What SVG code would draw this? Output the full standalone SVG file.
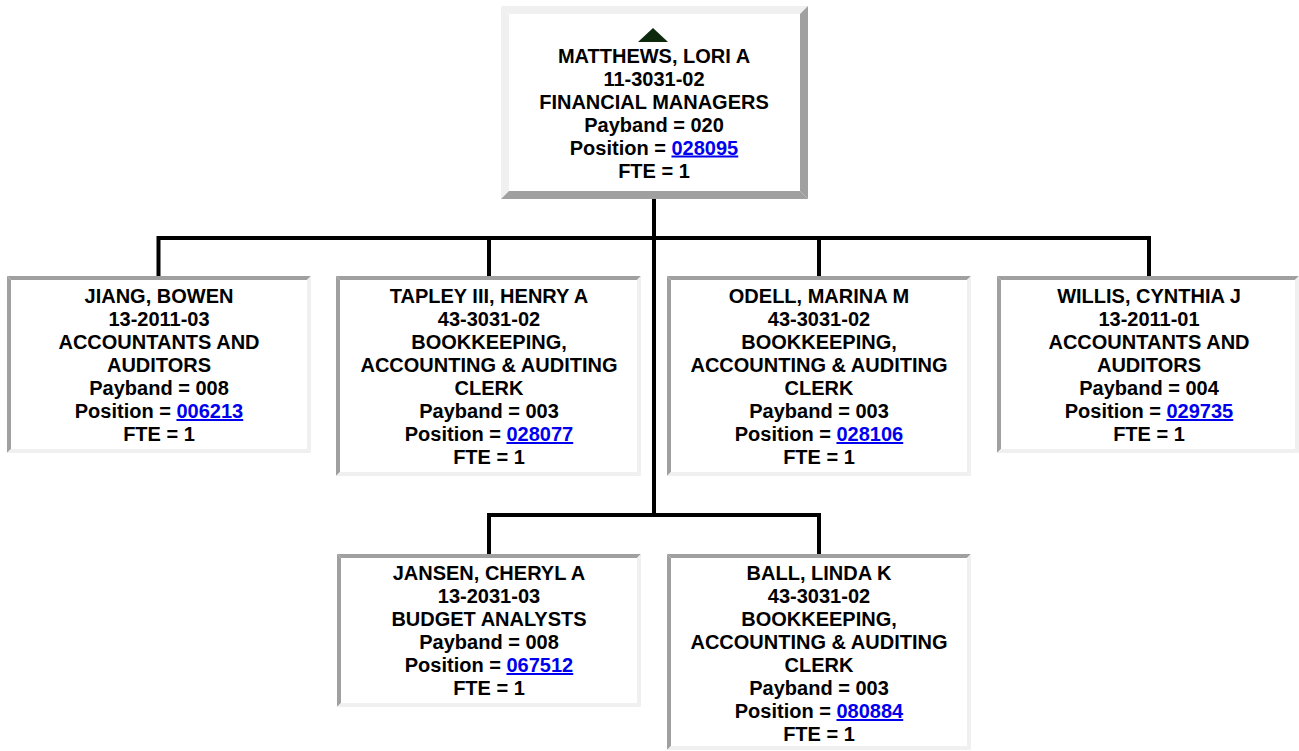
<svg xmlns="http://www.w3.org/2000/svg" width="1299" height="751" viewBox="0 0 1299 751">
<style>
.lt{fill:#f0f0f0}
.dk{fill:#a0a0a0}
.bg{fill:#ffffff}
text{font-family:"Liberation Sans",Arial,sans-serif;font-weight:bold;font-size:20px;fill:#000;text-anchor:middle}
.lnk{fill:#0000ee;text-decoration:underline}
.conn{fill:none;stroke:#000;stroke-width:4;stroke-linejoin:miter}
</style>
<rect x="0" y="0" width="1299" height="751" fill="#ffffff"/>
<g id="connectors">
<path class="conn" d="M654 199 V515"/>
<path class="conn" d="M158.5 278 V238 H1149 V278"/>
<path class="conn" d="M489 278 V238"/>
<path class="conn" d="M819 278 V238"/>
<path class="conn" d="M489 556 V515 H819 V556"/>
</g>
<g id="matthews">
<rect class="bg" x="501" y="6" width="307" height="193"/>
<path class="lt" d="M501 6 H808 L800 14 H509 Z"/>
<path class="lt" d="M501 6 L509 14 V191 L501 199 Z"/>
<path class="dk" d="M808 6 V199 L800 191 V14 Z"/>
<path class="dk" d="M501 199 H808 L800 191 H509 Z"/>
<path d="M638 42 L653 28 L668 42 Z" fill="#0d2a0d"/>
<text x="654" y="62.5">MATTHEWS, LORI A</text>
<text x="654" y="85.5">11-3031-02</text>
<text x="654" y="108.5">FINANCIAL MANAGERS</text>
<text x="654" y="131.5">Payband = 020</text>
<text x="654" y="154.5">Position = <tspan class="lnk">028095</tspan></text>
<text x="654" y="177.5">FTE = 1</text>
</g>
<g id="jiang">
<rect class="bg" x="7" y="276" width="304" height="177"/>
<path class="dk" d="M7 276 H311 L307 280 H11 Z"/>
<path class="dk" d="M7 276 L11 280 V449 L7 453 Z"/>
<path class="lt" d="M311 276 V453 L307 449 V280 Z"/>
<path class="lt" d="M7 453 H311 L307 449 H11 Z"/>
<text x="159" y="303">JIANG, BOWEN</text>
<text x="159" y="326">13-2011-03</text>
<text x="159" y="349">ACCOUNTANTS AND</text>
<text x="159" y="372">AUDITORS</text>
<text x="159" y="395">Payband = 008</text>
<text x="159" y="418">Position = <tspan class="lnk">006213</tspan></text>
<text x="159" y="441">FTE = 1</text>
</g>
<g id="tapley">
<rect class="bg" x="336" y="276" width="305" height="200"/>
<path class="dk" d="M336 276 H641 L637 280 H340 Z"/>
<path class="dk" d="M336 276 L340 280 V472 L336 476 Z"/>
<path class="lt" d="M641 276 V476 L637 472 V280 Z"/>
<path class="lt" d="M336 476 H641 L637 472 H340 Z"/>
<text x="489" y="303">TAPLEY III, HENRY A</text>
<text x="489" y="326">43-3031-02</text>
<text x="489" y="349">BOOKKEEPING,</text>
<text x="489" y="372">ACCOUNTING &amp; AUDITING</text>
<text x="489" y="395">CLERK</text>
<text x="489" y="418">Payband = 003</text>
<text x="489" y="441">Position = <tspan class="lnk">028077</tspan></text>
<text x="489" y="464">FTE = 1</text>
</g>
<g id="odell">
<rect class="bg" x="667" y="276" width="304" height="200"/>
<path class="dk" d="M667 276 H971 L967 280 H671 Z"/>
<path class="dk" d="M667 276 L671 280 V472 L667 476 Z"/>
<path class="lt" d="M971 276 V476 L967 472 V280 Z"/>
<path class="lt" d="M667 476 H971 L967 472 H671 Z"/>
<text x="819" y="303">ODELL, MARINA M</text>
<text x="819" y="326">43-3031-02</text>
<text x="819" y="349">BOOKKEEPING,</text>
<text x="819" y="372">ACCOUNTING &amp; AUDITING</text>
<text x="819" y="395">CLERK</text>
<text x="819" y="418">Payband = 003</text>
<text x="819" y="441">Position = <tspan class="lnk">028106</tspan></text>
<text x="819" y="464">FTE = 1</text>
</g>
<g id="willis">
<rect class="bg" x="997" y="276" width="302" height="177"/>
<path class="dk" d="M997 276 H1299 L1295 280 H1001 Z"/>
<path class="dk" d="M997 276 L1001 280 V449 L997 453 Z"/>
<path class="lt" d="M1299 276 V453 L1295 449 V280 Z"/>
<path class="lt" d="M997 453 H1299 L1295 449 H1001 Z"/>
<text x="1149" y="303">WILLIS, CYNTHIA J</text>
<text x="1149" y="326">13-2011-01</text>
<text x="1149" y="349">ACCOUNTANTS AND</text>
<text x="1149" y="372">AUDITORS</text>
<text x="1149" y="395">Payband = 004</text>
<text x="1149" y="418">Position = <tspan class="lnk">029735</tspan></text>
<text x="1149" y="441">FTE = 1</text>
</g>
<g id="jansen">
<rect class="bg" x="337" y="554" width="304" height="153"/>
<path class="dk" d="M337 554 H641 L637 558 H341 Z"/>
<path class="dk" d="M337 554 L341 558 V703 L337 707 Z"/>
<path class="lt" d="M641 554 V707 L637 703 V558 Z"/>
<path class="lt" d="M337 707 H641 L637 703 H341 Z"/>
<text x="489" y="580">JANSEN, CHERYL A</text>
<text x="489" y="603">13-2031-03</text>
<text x="489" y="626">BUDGET ANALYSTS</text>
<text x="489" y="649">Payband = 008</text>
<text x="489" y="672">Position = <tspan class="lnk">067512</tspan></text>
<text x="489" y="695">FTE = 1</text>
</g>
<g id="ball">
<rect class="bg" x="667" y="554" width="304" height="196"/>
<path class="dk" d="M667 554 H971 L967 558 H671 Z"/>
<path class="dk" d="M667 554 L671 558 V746 L667 750 Z"/>
<path class="lt" d="M971 554 V750 L967 746 V558 Z"/>
<path class="lt" d="M667 750 H971 L967 746 H671 Z"/>
<text x="819" y="580">BALL, LINDA K</text>
<text x="819" y="603">43-3031-02</text>
<text x="819" y="626">BOOKKEEPING,</text>
<text x="819" y="649">ACCOUNTING &amp; AUDITING</text>
<text x="819" y="672">CLERK</text>
<text x="819" y="695">Payband = 003</text>
<text x="819" y="718">Position = <tspan class="lnk">080884</tspan></text>
<text x="819" y="741">FTE = 1</text>
</g>
</svg>
